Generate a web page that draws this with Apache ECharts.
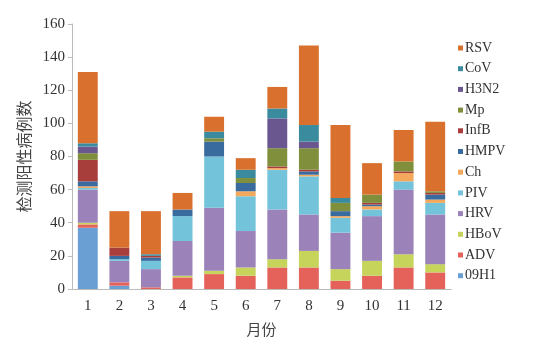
<!DOCTYPE html>
<html><head><meta charset="utf-8">
<script src="https://cdn.jsdelivr.net/npm/echarts@6/dist/echarts.min.js"></script>
<style>html,body{margin:0;padding:0;background:#fff}#c{width:547px;height:342px}</style>
</head><body><div id="c"></div>
<script>
const months = ['1','2','3','4','5','6','7','8','9','10','11','12'];
const yTicks = [0,20,40,60,80,100,120,140,160];
// stacked from bottom to top
const v09H1 = [37,2,0,0,0,0,0,0,0,0,0,0];
const vADV  = [2,2,1,7,9,8,13,13,5,8,13,10];
const vHBoV = [1,0,0,1,2,5,5,10,7,9,8,5];
const vHRV  = [20,13,11,21,38,22,30,22,22,27,39,30];
const vPIV  = [1,1,5,15,31,21,24,23,9,4,5,7];
const vCh   = [1,0,0,0,0,3,1,1,1,2,5,2];
const vHMPV = [3,2,2,4,9,5,0,2,3,1,0,3];
const vInfB = [13,5,1,0,0,0,1,1,0,1,1,1];
const vMp   = [4,0,0,0,2,3,11,13,5,5,6,1];
const vH3N2 = [4,0,0,0,0,0,18,4,0,0,0,0];
const vCoV  = [2,0,1,0,4,5,6,10,3,0,0,0];
const vRSV  = [43,22,26,10,9,7,13,48,44,19,19,42];

const seriesDefs = [
  ['09H1', v09H1, '#6A9FD4'],
  ['ADV',  vADV,  '#E5625A'],
  ['HBoV', vHBoV, '#C6D45C'],
  ['HRV',  vHRV,  '#9B82B9'],
  ['PIV',  vPIV,  '#73C4DA'],
  ['Ch',   vCh,   '#F4A85C'],
  ['HMPV', vHMPV, '#3A6B9F'],
  ['InfB', vInfB, '#A83E3C'],
  ['Mp',   vMp,   '#7F8F3C'],
  ['H3N2', vH3N2, '#6B5790'],
  ['CoV',  vCoV,  '#3B8B9E'],
  ['RSV',  vRSV,  '#D9702E']
];

const chart = echarts.init(document.getElementById('c'), null, {renderer:'canvas'});
chart.setOption({
  animation: false,
  grid: {left: 72, right: 96, top: 24, bottom: 52},
  legend: {
    orient: 'vertical', left: 453, top: 36,
    itemWidth: 5, itemHeight: 5, itemGap: 6.7,
    icon: 'rect',
    data: seriesDefs.map(s => s[0]).reverse(),
    textStyle: {fontFamily: 'Liberation Serif', fontSize: 14, color: '#333', padding: [0,0,0,-3]}
  },
  xAxis: {
    type: 'category', data: months,
    name: '月份', nameLocation: 'middle', nameGap: 33,
    nameTextStyle: {fontFamily: 'Noto Sans CJK SC', fontSize: 15, color: '#444'},
    axisLine: {lineStyle: {color: '#bbb'}},
    axisTick: {show: false},
    axisLabel: {fontFamily: 'Liberation Serif', fontSize: 15, color: '#333', margin: 10}
  },
  yAxis: {
    type: 'value', min: 0, max: 160, interval: 20,
    name: '检测阳性病例数', nameLocation: 'middle', nameGap: 39,
    nameTextStyle: {fontFamily: 'Noto Sans CJK SC', fontSize: 16, color: '#444'},
    axisLine: {show: true, lineStyle: {color: '#bbb'}},
    axisTick: {show: true, length: 4, lineStyle: {color: '#bbb'}},
    splitLine: {show: false},
    axisLabel: {fontFamily: 'Liberation Serif', fontSize: 15, color: '#333', margin: 7,
      formatter: v => yTicks.includes(v) ? String(v) : ''}
  },
  series: seriesDefs.map(([name, data, color]) => ({
    name, type: 'bar', stack: 'all', data,
    barWidth: '63%',
    itemStyle: {color}
  }))
});
</script></body></html>
